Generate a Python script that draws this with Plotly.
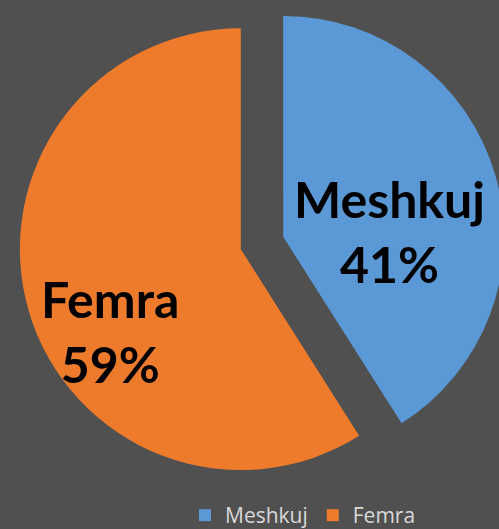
import plotly.graph_objects as go

labels = ["Meshkuj", "Femra"]
values = [41, 59]
colors = ["#5A98D6", "#EE7B2C"]
percent_labels = ["41%", "59%"]

# figure is a bit larger than the 499x529 window so the pie is cut at the right edge, as in the reference
W, H = 510, 536
cx, cy, half = 262, 243, 243

fig = go.Figure()
fig.add_trace(go.Pie(
    labels=labels,
    values=values,
    sort=False,
    direction="clockwise",
    rotation=0,
    pull=[0.1, 0.1],
    marker=dict(colors=colors, line=dict(width=0)),
    textinfo="none",
    hoverinfo="label+percent",
    domain=dict(x=[(cx - half) / W, (cx + half) / W],
                y=[1 - (cy + half) / H, 1 - (cy - half) / H]),
))

label_pos = {"Meshkuj": (389, 232), "Femra": (110, 331)}
for lab, pct in zip(labels, percent_labels):
    px, py = label_pos[lab]
    fig.add_annotation(
        text=f"<b>{lab}<br>{pct}</b>",
        x=px / W, y=1 - py / H, xref="paper", yref="paper",
        xanchor="center", yanchor="middle", showarrow=False,
        font=dict(family="Lato", size=50, color="#000000"),
    )

fig.update_layout(
    width=W, height=H,
    margin=dict(l=0, r=0, t=0, b=0),
    paper_bgcolor="#505050",
    plot_bgcolor="#505050",
    showlegend=True,
    legend=dict(
        orientation="h",
        x=185 / W, y=0, xanchor="left", yanchor="bottom",
        font=dict(family="Open Sans", size=21, color="#D9D9D9"),
        bgcolor="rgba(0,0,0,0)",
        itemwidth=30,
    ),
)

fig.write_html(
    "out.html",
    config={"displayModeBar": False},
    post_script="document.body.style.margin='0';document.body.style.overflow='hidden';",
)
